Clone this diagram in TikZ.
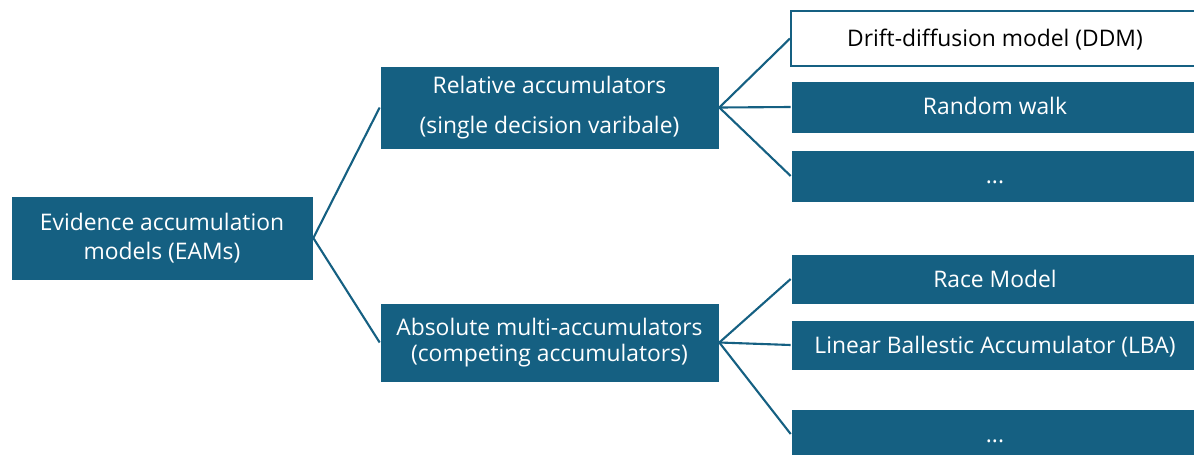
\documentclass[tikz,border=0pt]{standalone}
\usepackage{fontspec}
\setmainfont{Open Sans}
\usepackage{tikz}
\definecolor{eamblue}{HTML}{156082}
\tikzstyle{family} = [rectangle, text centered, align=center, draw=white, fill=eamblue, text=white, inner sep=2pt, font=\fontsize{13}{16.5}\selectfont]
\tikzstyle{model} = [rectangle, text centered, draw=white, fill=eamblue, text=white, inner sep=2pt, minimum width=8.16cm, text height=2.2ex, text depth=0.5ex, font=\fontsize{13}{16.5}\selectfont]
\tikzstyle{link} = [line width=1.2pt, draw=eamblue]

\begin{document}
\begin{tikzpicture}[x=0.02cm, y=-0.02cm]
    \useasboundingbox (0,0) rectangle (1194,454);
    \clip (0,0) rectangle (1194,454);

    % Root
    \node[family, minimum width=6.04cm, minimum height=1.68cm] (eam) at (162,238) {Evidence accumulation\\models (EAMs)};

    % Accumulator families
    \node[family, minimum width=6.78cm, minimum height=1.66cm] (rel) at (549.5,107.5) {Relative accumulators\\[6pt](single decision varibale)};
    \node[family, minimum width=6.78cm, minimum height=1.58cm, font=\fontsize{13}{15}\selectfont] (abs) at (549.5,342.5) {Absolute multi-accumulators\\(competing accumulators)};

    % Relative models
    \node[model, minimum height=1.1cm, fill=white, text=black, draw=eamblue, line width=1.2pt] (ddm) at (995,38.5) {Drift-diffusion model (DDM)};
    \node[model, minimum height=1.04cm] (rw) at (995,107) {Random walk};
    \node[model, minimum height=1.04cm] (reldots) at (995,176) {...};

    % Absolute models
    \node[model, minimum height=1.0cm] (race) at (995,279) {Race Model};
    \node[model, minimum height=1.0cm] (lba) at (995,345) {Linear Ballestic Accumulator (LBA)};
    \node[model, minimum height=1.0cm] (absdots) at (995,434) {...};

    % Links
    \draw[link] (eam.east) -- (rel.west);
    \draw[link] (eam.east) -- (abs.west);
    \draw[link] (rel.east) -- (ddm.west);
    \draw[link] (rel.east) -- (rw.west);
    \draw[link] (rel.east) -- (reldots.west);
    \draw[link] (abs.east) -- (race.west);
    \draw[link] (abs.east) -- (lba.west);
    \draw[link] (abs.east) -- (absdots.west);
\end{tikzpicture}
\end{document}
